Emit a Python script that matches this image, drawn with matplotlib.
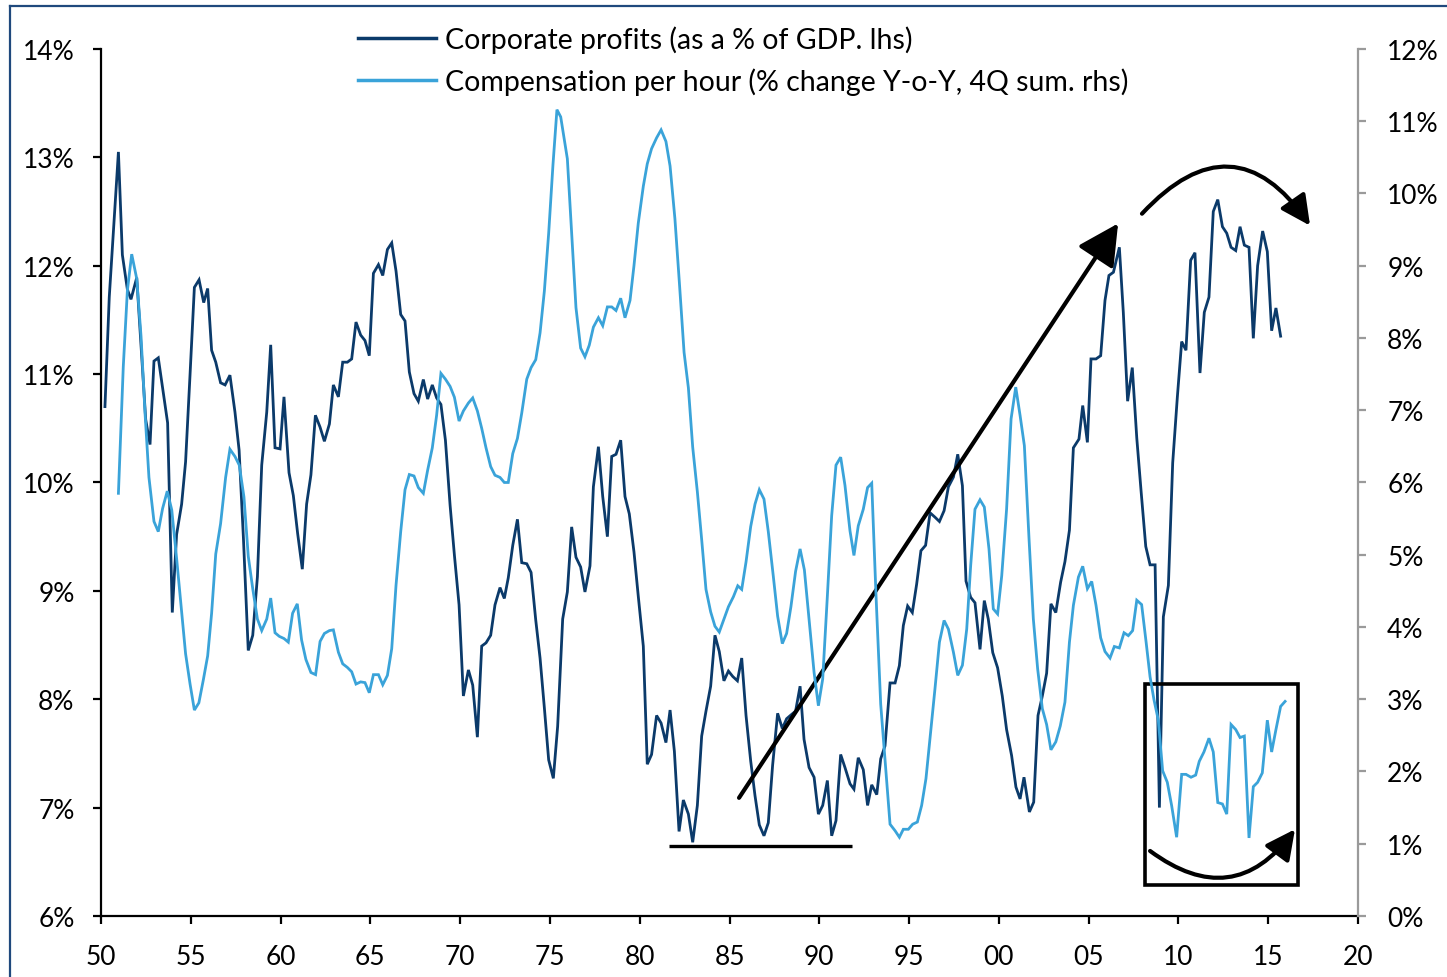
import matplotlib
matplotlib.use("Agg")
import matplotlib.pyplot as plt
from matplotlib.patches import Rectangle
from matplotlib.lines import Line2D

plt.rcParams["font.family"] = ["Lato", "DejaVu Sans"]

# corporate profits, % of GDP (lhs)
profit_years = [
    1950.22, 1950.46, 1950.97, 1951.19, 1951.47, 1951.67, 1951.99, 1952.27, 1952.49, 1952.73,
    1952.95, 1953.19, 1953.47, 1953.71, 1953.97, 1954.21, 1954.49, 1954.71, 1954.96, 1955.20,
    1955.46, 1955.72, 1955.94, 1956.16, 1956.39, 1956.66, 1956.91, 1957.18, 1957.46, 1957.69,
    1957.93, 1958.20, 1958.45, 1958.71, 1958.95, 1959.23, 1959.45, 1959.69, 1959.97, 1960.19,
    1960.47, 1960.71, 1960.95, 1961.21, 1961.45, 1961.69, 1961.94, 1962.20, 1962.44, 1962.72,
    1962.94, 1963.22, 1963.46, 1963.72, 1963.96, 1964.20, 1964.46, 1964.70, 1964.94, 1965.17,
    1965.45, 1965.69, 1965.95, 1966.19, 1966.43, 1966.69, 1966.93, 1967.17, 1967.43, 1967.67,
    1967.95, 1968.19, 1968.45, 1968.69, 1968.93, 1969.18, 1969.44, 1969.68, 1969.94, 1970.18,
    1970.46, 1970.70, 1970.96, 1971.20, 1971.44, 1971.70, 1971.94, 1972.22, 1972.46, 1972.68,
    1972.93, 1973.19, 1973.43, 1973.71, 1973.95, 1974.21, 1974.45, 1974.69, 1974.93, 1975.19,
    1975.43, 1975.71, 1975.97, 1976.21, 1976.45, 1976.71, 1976.95, 1977.23, 1977.42, 1977.70,
    1977.94, 1978.20, 1978.44, 1978.68, 1978.94, 1979.18, 1979.42, 1979.68, 1979.92, 1980.20,
    1980.42, 1980.66, 1980.94, 1981.19, 1981.46, 1981.69, 1981.93, 1982.19, 1982.43, 1982.71,
    1982.95, 1983.21, 1983.45, 1983.69, 1983.95, 1984.19, 1984.43, 1984.69, 1984.94, 1985.18,
    1985.44, 1985.68, 1985.92, 1986.18, 1986.42, 1986.66, 1986.92, 1987.16, 1987.40, 1987.68,
    1987.94, 1988.18, 1988.46, 1988.68, 1988.93, 1989.15, 1989.43, 1989.71, 1989.95, 1990.19,
    1990.45, 1990.69, 1990.93, 1991.19, 1991.43, 1991.71, 1991.93, 1992.17, 1992.45, 1992.69,
    1992.92, 1993.20, 1993.42, 1993.66, 1993.94, 1994.22, 1994.46, 1994.68, 1994.92, 1995.18,
    1995.42, 1995.66, 1995.92, 1996.17, 1996.44, 1996.69, 1996.95, 1997.19, 1997.47, 1997.71,
    1997.97, 1998.17, 1998.43, 1998.67, 1998.95, 1999.19, 1999.41, 1999.66, 1999.93, 2000.19,
    2000.43, 2000.71, 2000.95, 2001.18, 2001.40, 2001.70, 2001.94, 2002.18, 2002.42, 2002.66,
    2002.90, 2003.17, 2003.44, 2003.68, 2003.93, 2004.15, 2004.46, 2004.67, 2004.93, 2005.13,
    2005.41, 2005.67, 2005.91, 2006.13, 2006.38, 2006.71, 2006.93, 2007.17, 2007.43, 2007.68,
    2007.92, 2008.18, 2008.42, 2008.70, 2008.94, 2009.16, 2009.44, 2009.68, 2009.94, 2010.18,
    2010.42, 2010.68, 2010.92, 2011.20, 2011.44, 2011.70, 2011.94, 2012.19, 2012.45, 2012.69,
    2012.93, 2013.19, 2013.43, 2013.67, 2013.93, 2014.17, 2014.41, 2014.69, 2014.95, 2015.19,
    2015.43, 2015.69,
]
profit_vals = [
    10.70, 11.71, 13.05, 12.10, 11.78, 11.69, 11.89, 11.15, 10.58, 10.35,
    11.12, 11.15, 10.83, 10.55, 8.80, 9.52, 9.80, 10.19, 11.00, 11.80,
    11.87, 11.66, 11.79, 11.22, 11.11, 10.92, 10.90, 10.99, 10.65, 10.30,
    9.49, 8.45, 8.59, 9.13, 10.16, 10.65, 11.27, 10.32, 10.31, 10.79,
    10.09, 9.88, 9.53, 9.20, 9.80, 10.07, 10.62, 10.51, 10.38, 10.54,
    10.90, 10.79, 11.11, 11.11, 11.14, 11.48, 11.36, 11.31, 11.17, 11.93,
    12.01, 11.91, 12.15, 12.21, 11.95, 11.55, 11.49, 11.02, 10.82, 10.75,
    10.95, 10.77, 10.90, 10.78, 10.72, 10.39, 9.79, 9.33, 8.87, 8.03,
    8.27, 8.13, 7.65, 8.49, 8.52, 8.59, 8.87, 9.03, 8.93, 9.12,
    9.42, 9.66, 9.26, 9.25, 9.17, 8.73, 8.38, 7.92, 7.44, 7.27,
    7.75, 8.74, 8.99, 9.59, 9.31, 9.22, 8.99, 9.23, 9.96, 10.33,
    9.87, 9.50, 10.24, 10.26, 10.39, 9.87, 9.71, 9.36, 8.95, 8.49,
    7.40, 7.49, 7.85, 7.78, 7.60, 7.90, 7.52, 6.78, 7.07, 6.94,
    6.68, 7.02, 7.66, 7.89, 8.12, 8.59, 8.44, 8.17, 8.26, 8.21,
    8.17, 8.38, 7.85, 7.43, 7.11, 6.84, 6.74, 6.86, 7.39, 7.87,
    7.73, 7.82, 7.86, 7.89, 8.12, 7.63, 7.37, 7.28, 6.94, 7.02,
    7.25, 6.74, 6.88, 7.49, 7.37, 7.22, 7.17, 7.46, 7.35, 7.02,
    7.21, 7.12, 7.45, 7.57, 8.15, 8.15, 8.31, 8.68, 8.86, 8.80,
    9.06, 9.37, 9.42, 9.72, 9.68, 9.64, 9.74, 9.96, 10.05, 10.26,
    9.97, 9.09, 8.94, 8.89, 8.46, 8.91, 8.74, 8.43, 8.29, 8.03,
    7.72, 7.48, 7.19, 7.08, 7.28, 6.96, 7.05, 7.85, 8.03, 8.24,
    8.88, 8.80, 9.08, 9.27, 9.56, 10.32, 10.40, 10.71, 10.37, 11.14,
    11.14, 11.17, 11.68, 11.91, 11.94, 12.17, 11.57, 10.75, 11.06, 10.41,
    9.92, 9.41, 9.24, 9.24, 7.00, 8.76, 9.05, 10.18, 10.79, 11.30,
    11.22, 12.05, 12.12, 11.01, 11.57, 11.71, 12.50, 12.61, 12.36, 12.30,
    12.17, 12.14, 12.36, 12.19, 12.17, 11.33, 12.00, 12.32, 12.13, 11.40,
    11.61, 11.35,
]

# compensation per hour, % y-o-y (rhs)
comp_years = [
    1950.97, 1951.24, 1951.47, 1951.71, 1951.99, 1952.23, 1952.45, 1952.67, 1952.95, 1953.19,
    1953.43, 1953.69, 1953.94, 1954.21, 1954.45, 1954.71, 1954.96, 1955.20, 1955.45, 1955.70,
    1955.94, 1956.16, 1956.39, 1956.66, 1956.94, 1957.18, 1957.46, 1957.70, 1957.96, 1958.20,
    1958.45, 1958.71, 1958.95, 1959.23, 1959.45, 1959.69, 1959.93, 1960.19, 1960.43, 1960.67,
    1960.93, 1961.17, 1961.41, 1961.69, 1961.95, 1962.20, 1962.44, 1962.72, 1962.94, 1963.22,
    1963.46, 1963.72, 1963.96, 1964.20, 1964.46, 1964.70, 1964.94, 1965.17, 1965.45, 1965.69,
    1965.95, 1966.19, 1966.43, 1966.69, 1966.93, 1967.17, 1967.43, 1967.67, 1967.95, 1968.19,
    1968.45, 1968.69, 1968.93, 1969.18, 1969.44, 1969.68, 1969.94, 1970.18, 1970.46, 1970.70,
    1970.96, 1971.20, 1971.44, 1971.70, 1971.94, 1972.22, 1972.46, 1972.68, 1972.93, 1973.19,
    1973.43, 1973.71, 1973.95, 1974.21, 1974.45, 1974.69, 1974.93, 1975.17, 1975.39, 1975.60,
    1975.97, 1976.21, 1976.45, 1976.71, 1976.95, 1977.19, 1977.42, 1977.70, 1977.94, 1978.20,
    1978.44, 1978.68, 1978.94, 1979.18, 1979.46, 1979.68, 1979.92, 1980.20, 1980.42, 1980.66,
    1980.94, 1981.19, 1981.46, 1981.69, 1981.96, 1982.21, 1982.47, 1982.71, 1982.95, 1983.21,
    1983.45, 1983.69, 1983.95, 1984.19, 1984.43, 1984.69, 1984.94, 1985.22, 1985.46, 1985.68,
    1985.92, 1986.18, 1986.42, 1986.66, 1986.92, 1987.16, 1987.44, 1987.68, 1987.94, 1988.18,
    1988.42, 1988.68, 1988.93, 1989.17, 1989.43, 1989.71, 1989.95, 1990.19, 1990.45, 1990.69,
    1990.93, 1991.19, 1991.43, 1991.71, 1991.93, 1992.17, 1992.45, 1992.69, 1992.92, 1993.16,
    1993.42, 1993.66, 1993.94, 1994.22, 1994.46, 1994.68, 1994.96, 1995.20, 1995.46, 1995.70,
    1995.94, 1996.20, 1996.44, 1996.69, 1996.95, 1997.19, 1997.47, 1997.71, 1997.97, 1998.21,
    1998.43, 1998.67, 1998.95, 1999.19, 1999.45, 1999.69, 1999.93, 2000.16, 2000.43, 2000.68,
    2000.94, 2001.18, 2001.42, 2001.68, 2001.92, 2002.16, 2002.42, 2002.66, 2002.90, 2003.17,
    2003.42, 2003.68, 2003.93, 2004.15, 2004.43, 2004.67, 2004.93, 2005.17, 2005.41, 2005.67,
    2005.91, 2006.19, 2006.43, 2006.71, 2006.97, 2007.21, 2007.45, 2007.68, 2007.95, 2008.20,
    2008.42, 2008.64, 2008.88, 2009.12, 2009.38, 2009.62, 2009.90, 2010.18, 2010.42, 2010.70,
    2010.96, 2011.16, 2011.42, 2011.70, 2011.94, 2012.19, 2012.45, 2012.69, 2012.93, 2013.19,
    2013.43, 2013.67, 2013.93, 2014.17, 2014.41, 2014.67, 2014.95, 2015.19, 2015.43, 2015.69,
    2015.94,
]
comp_vals = [
    5.85, 7.60, 8.66, 9.16, 8.82, 8.02, 6.97, 6.07, 5.46, 5.32,
    5.64, 5.88, 5.62, 4.95, 4.32, 3.63, 3.21, 2.85, 2.95, 3.27,
    3.60, 4.19, 5.01, 5.43, 6.07, 6.46, 6.36, 6.24, 5.80, 4.98,
    4.53, 4.11, 3.95, 4.11, 4.40, 3.92, 3.87, 3.84, 3.79, 4.19,
    4.32, 3.82, 3.55, 3.37, 3.34, 3.80, 3.91, 3.95, 3.96, 3.65,
    3.49, 3.44, 3.38, 3.21, 3.24, 3.23, 3.09, 3.34, 3.34, 3.20,
    3.33, 3.70, 4.58, 5.32, 5.90, 6.11, 6.09, 5.93, 5.85, 6.17,
    6.48, 6.93, 7.51, 7.43, 7.33, 7.18, 6.85, 6.99, 7.10, 7.17,
    6.99, 6.75, 6.48, 6.22, 6.10, 6.07, 6.00, 6.00, 6.40, 6.61,
    6.96, 7.43, 7.59, 7.70, 8.07, 8.65, 9.45, 10.40, 11.16, 11.06,
    10.48, 9.45, 8.42, 7.86, 7.74, 7.90, 8.15, 8.28, 8.17, 8.43,
    8.43, 8.38, 8.55, 8.28, 8.52, 9.00, 9.59, 10.10, 10.41, 10.62,
    10.77, 10.88, 10.72, 10.38, 9.65, 8.76, 7.80, 7.31, 6.49, 5.87,
    5.21, 4.52, 4.21, 4.01, 3.93, 4.11, 4.28, 4.42, 4.57, 4.52,
    4.90, 5.39, 5.70, 5.90, 5.77, 5.32, 4.70, 4.15, 3.77, 3.91,
    4.28, 4.77, 5.08, 4.79, 4.11, 3.37, 2.91, 3.28, 4.43, 5.54,
    6.24, 6.35, 5.96, 5.33, 4.99, 5.40, 5.63, 5.93, 5.99, 4.43,
    2.93, 2.17, 1.27, 1.18, 1.09, 1.20, 1.20, 1.27, 1.30, 1.53,
    1.90, 2.54, 3.14, 3.79, 4.09, 3.97, 3.65, 3.33, 3.47, 3.97,
    4.85, 5.63, 5.76, 5.66, 5.08, 4.25, 4.18, 4.71, 5.63, 6.88,
    7.32, 6.93, 6.51, 5.22, 4.11, 3.42, 2.87, 2.65, 2.30, 2.41,
    2.63, 2.96, 3.79, 4.30, 4.69, 4.84, 4.53, 4.63, 4.30, 3.85,
    3.66, 3.57, 3.73, 3.71, 3.92, 3.88, 3.95, 4.37, 4.31, 3.79,
    3.31, 2.99, 2.71, 2.01, 1.85, 1.53, 1.09, 1.96, 1.96, 1.92,
    1.95, 2.14, 2.27, 2.46, 2.27, 1.57, 1.55, 1.41, 2.65, 2.58,
    2.47, 2.49, 1.08, 1.79, 1.85, 1.98, 2.71, 2.27, 2.58, 2.90,
    2.97,
]

x_ticks = list(range(1950, 2021, 5))
left_ticks = list(range(6, 15))
right_ticks = list(range(0, 13))
labels = ["Corporate profits (as a % of GDP. lhs)",
          "Compensation per hour (% change Y-o-Y, 4Q sum. rhs)"]

DARK = "#0b3a6a"
LIGHT = "#3aa3d9"

fig = plt.figure(figsize=(14.47, 9.78), dpi=100)
ax = fig.add_axes([0.0698, 0.0624, 0.8687, 0.8865])
ax2 = ax.twinx()

ax.plot(profit_years, profit_vals, color=DARK, lw=2.0, solid_joinstyle="miter")
ax2.plot(comp_years, comp_vals, color=LIGHT, lw=2.0, solid_joinstyle="miter")

ax.set_xlim(1950, 2020)
ax.set_ylim(6, 14)
ax2.set_ylim(0, 12)
ax.set_xticks(x_ticks)
ax.set_xticklabels([f"{y % 100:02d}" for y in x_ticks])
ax.set_yticks(left_ticks)
ax.set_yticklabels([f"{v}%" for v in left_ticks])
ax2.set_yticks(right_ticks)
ax2.set_yticklabels([f"{v}%" for v in right_ticks])

for a in (ax, ax2):
    a.spines["top"].set_visible(False)
ax.spines["right"].set_visible(False)
ax2.spines["left"].set_visible(False)
ax2.spines["bottom"].set_visible(False)
ax.spines["left"].set_linewidth(1.6)
ax.spines["bottom"].set_linewidth(1.6)
ax2.spines["right"].set_color("#9a9a9a")
ax2.spines["right"].set_linewidth(1.6)

ax.tick_params(axis="both", direction="out", length=6, width=1.6, labelsize=19, colors="black")
ax.tick_params(axis="y", pad=13)
ax.tick_params(axis="x", pad=14)
ax2.tick_params(axis="y", direction="out", length=6, width=1.6, labelsize=19,
                color="#9a9a9a", labelcolor="black", pad=15)

# annotations
ax.plot([1981.63, 1991.82], [6.646, 6.646], color="black", lw=2.4, solid_capstyle="butt")
ax.annotate("", xy=(2006.64, 12.39), xytext=(1985.53, 7.09),
            arrowprops=dict(arrowstyle="-|>,head_length=1.25,head_width=0.65",
                            mutation_scale=20, lw=3, color="black", shrinkA=0, shrinkB=0))
ax.annotate("", xy=(2017.33, 12.37), xytext=(2007.97, 12.48), annotation_clip=False,
            arrowprops=dict(arrowstyle="-|>,head_length=0.9,head_width=0.45",
                            mutation_scale=20, lw=3, color="black", shrinkA=0, shrinkB=0,
                            connectionstyle="arc3,rad=-0.62"))
ax.add_patch(Rectangle((2008.14, 6.29), 8.52, 1.85, fill=False, lw=2.6,
                       edgecolor="black", clip_on=False, zorder=5))
ax.annotate("", xy=(2016.49, 6.80), xytext=(2008.42, 6.60),
            arrowprops=dict(arrowstyle="-|>,head_length=0.9,head_width=0.45",
                            mutation_scale=20, lw=3, color="black", shrinkA=0, shrinkB=0,
                            connectionstyle="arc3,rad=0.5"))

handles = [Line2D([], [], color=DARK, lw=2.5), Line2D([], [], color=LIGHT, lw=2.5)]
fig.legend(handles, labels, loc="upper left", bbox_to_anchor=(358 / 1447, 1 - 26 / 978),
           frameon=False, fontsize=20.5, handlelength=2.74, handletextpad=0.3,
           labelspacing=0.52, borderpad=0, borderaxespad=0)

# figure frame (left and top edges)
frame_kw = dict(color="#1f497d", lw=1.6, transform=fig.transFigure)
fig.add_artist(Line2D([10 / 1447, 10 / 1447], [0, 1 - 7 / 978], **frame_kw))
fig.add_artist(Line2D([10 / 1447, 1], [1 - 7 / 978, 1 - 7 / 978], **frame_kw))

fig.savefig("out.png", dpi=100)
